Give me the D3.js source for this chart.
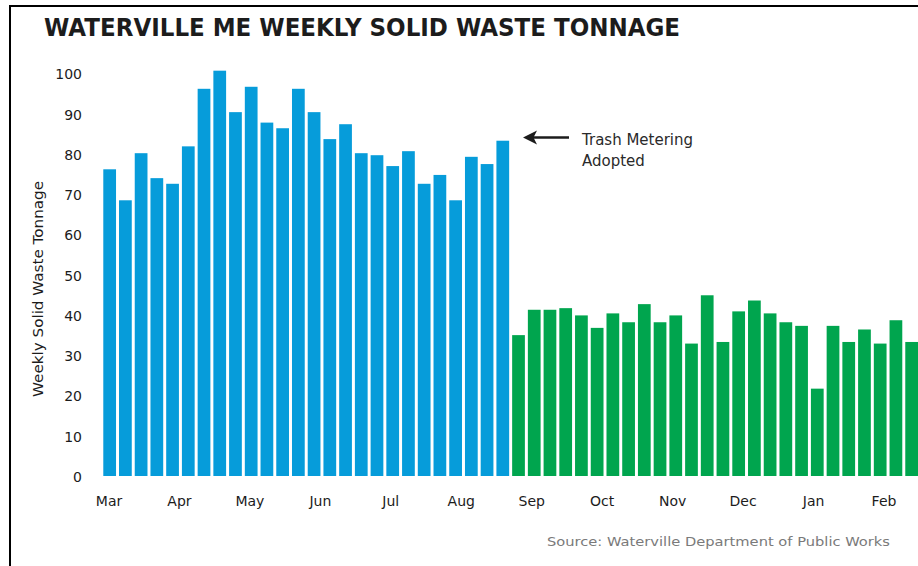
<!DOCTYPE html>
<html>
<head>
<meta charset="utf-8">
<script src="https://cdn.jsdelivr.net/npm/d3@7"></script>
<style>
  html, body { margin: 0; padding: 0; background: #fff; }
  svg { display: block; }
  text { font-family: "DejaVu Sans", sans-serif; }
</style>
</head>
<body>
<svg id="chart" width="918" height="566"></svg>
<script>
// ---- data ----
const title = "WATERVILLE ME WEEKLY SOLID WASTE TONNAGE";
const yAxisTitle = "Weekly Solid Waste Tonnage";
const sourceText = "Source: Waterville Department of Public Works";
const annotationLines = ["Trash Metering", "Adopted"];
const monthLabels = ["Mar","Apr","May","Jun","Jul","Aug","Sep","Oct","Nov","Dec","Jan","Feb"];
const yTicks = [0,10,20,30,40,50,60,70,80,90,100];
// weekly tonnage before trash metering (Mar–Aug)
const beforeMetering = [76.2,68.5,80.2,74.0,72.6,81.9,96.2,100.7,90.4,96.7,87.8,86.4,96.2,
                        90.4,83.7,87.4,80.2,79.7,77.0,80.7,72.6,74.8,68.5,79.3,77.5,83.3];
// weekly tonnage after trash metering (Sep–Feb)
const afterMetering = [35.0,41.3,41.3,41.7,39.9,36.8,40.4,38.2,42.7,38.2,39.9,32.9,44.9,
                       33.3,40.9,43.6,40.4,38.2,37.3,21.7,37.3,33.3,36.4,32.9,38.7,33.3];

const weeks = beforeMetering.map((v,i)=>({i, v, phase:"before"}))
  .concat(afterMetering.map((v,i)=>({i: beforeMetering.length + i, v, phase:"after"})));

const svg = d3.select("#chart");

// frame
svg.append("line").attr("x1",10).attr("x2",10).attr("y1",5).attr("y2",566)
  .attr("stroke","#000").attr("stroke-width",2);
svg.append("line").attr("x1",9).attr("x2",918).attr("y1",6).attr("y2",6)
  .attr("stroke","#000").attr("stroke-width",2);

// title
svg.append("text").attr("x",44).attr("y",36)
  .attr("font-size",24).attr("font-weight","bold").attr("fill","#1c1c1c")
  .attr("textLength",636).attr("lengthAdjust","spacingAndGlyphs")
  .text(title);

// scales
const x = d3.scaleBand().domain(weeks.map(d=>d.i)).range([101.8, 919.5])
  .paddingInner(0.19).paddingOuter(0.095);
const y = d3.scaleLinear().domain([0,100]).range([476, 73.5]);
const color = {before:"#069cda", after:"#00a54e"};

// bars
svg.append("g").selectAll("rect").data(weeks).join("rect")
  .attr("x", d=>x(d.i)).attr("width", x.bandwidth())
  .attr("y", d=>y(d.v)).attr("height", d=>y(0)-y(d.v))
  .attr("fill", d=>color[d.phase]);

// y axis
const yAxis = svg.append("g").attr("transform","translate(88,1)")
  .call(d3.axisLeft(y).tickValues(yTicks).tickSize(0).tickPadding(6));
yAxis.select(".domain").remove();
yAxis.selectAll("text").attr("font-size",14).attr("fill","#1c1c1c")
  .attr("font-family","DejaVu Sans, sans-serif");

// month axis
const xm = d3.scalePoint().domain(monthLabels).range([108.5, 883.5]);
const xAxis = svg.append("g").attr("transform","translate(0,476)")
  .call(d3.axisBottom(xm).tickSize(0).tickPadding(20));
xAxis.select(".domain").remove();
xAxis.selectAll("text").attr("font-size",14).attr("fill","#1c1c1c")
  .attr("font-family","DejaVu Sans, sans-serif");

// y axis title
svg.append("text").attr("transform","translate(43,289) rotate(-90)")
  .attr("text-anchor","middle").attr("font-size",14).attr("fill","#1c1c1c")
  .attr("textLength",216).attr("lengthAdjust","spacingAndGlyphs")
  .text(yAxisTitle);

// annotation
svg.append("line").attr("x1",531).attr("x2",569).attr("y1",137.5).attr("y2",137.5)
  .attr("stroke","#1c1c1c").attr("stroke-width",2.5);
svg.append("path").attr("d","M523,137.5 L537,130.5 L533.5,137.5 L537,144.5 Z")
  .attr("fill","#1c1c1c");
svg.append("text").attr("x",582).attr("y",145).attr("font-size",15).attr("fill","#2a2a2a")
  .selectAll("tspan").data(annotationLines).join("tspan")
  .attr("x",582).attr("dy",(d,i)=>i===0?0:21).text(d=>d);

// source
svg.append("text").attr("x",547).attr("y",546)
  .attr("font-size",13).attr("fill","#7a7a7a")
  .attr("textLength",343).attr("lengthAdjust","spacingAndGlyphs")
  .text(sourceText);
</script>
</body>
</html>
